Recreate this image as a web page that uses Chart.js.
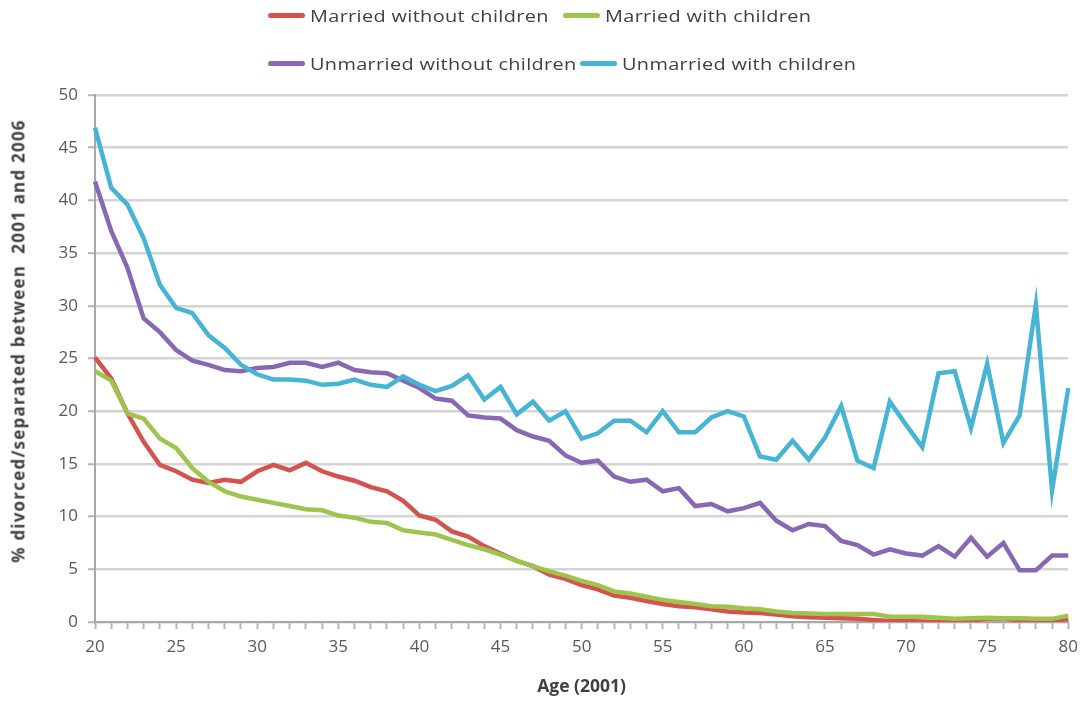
<!DOCTYPE html>
<html lang="en">
<head>
    <meta charset="UTF-8">
    <title>Divorce / separation by age</title>
    <style>
        body {
            margin: 0;
            background: #ffffff;
            font-family: "Open Sans", Arial, sans-serif;
            overflow: hidden;
        }

        .wrap {
            position: relative;
            width: 1086px;
            height: 704px;
        }

        .legend-item {
            position: absolute;
            display: flex;
            align-items: center;
            font-size: 17px;
            color: #404040;
            white-space: nowrap;
            letter-spacing: 0.3px;
            height: 24px;
        }

        .legend-item .swatch {
            width: 37px;
            height: 5px;
            border-radius: 3px;
            margin-right: 5px;
        }

        .legend-item .name {
            display: inline-block;
            transform: scaleX(1.17);
            transform-origin: left center;
        }

        .y-title {
            position: absolute;
            left: 18px;
            top: 341px;
            transform: translate(-50%, -50%) rotate(-90deg);
            font-size: 17px;
            font-weight: bold;
            letter-spacing: 1.2px;
            color: #404040;
            white-space: pre;
        }
    </style>
    <script src="https://cdn.jsdelivr.net/npm/chart.js"></script>
</head>
<body>
    <div class="wrap">
        <div id="legend"></div>
        <div class="y-title" id="yTitle"></div>
        <canvas id="myChart"></canvas>
    </div>

    <script>
        const ages = [];
        for (let a = 20; a <= 80; a++) ages.push(a);

        const yTicks = [0, 5, 10, 15, 20, 25, 30, 35, 40, 45, 50];

        const seriesNames = [
            'Married without children',
            'Married with children',
            'Unmarried without children',
            'Unmarried with children'
        ];

        // ages 20..80
        const marriedNoKids = [
            25.1, 23.1, 19.8, 17.1, 14.9, 14.3, 13.5, 13.2, 13.5, 13.3,
            14.3, 14.9, 14.4, 15.1, 14.3, 13.8, 13.4, 12.8, 12.4, 11.5,
            10.1, 9.7, 8.6, 8.1, 7.2, 6.5, 5.8, 5.3, 4.5, 4.1,
            3.5, 3.1, 2.5, 2.3, 2.0, 1.7, 1.5, 1.4, 1.2, 1.0,
            0.9, 0.85, 0.7, 0.55, 0.45, 0.4, 0.35, 0.3, 0.2, 0.1,
            0.1, 0.05, 0, 0.05, 0.15, 0.3, 0.35, 0.15, 0.1, 0.1,
            0.3
        ];
        const marriedKids = [
            23.8, 22.9, 19.8, 19.3, 17.4, 16.5, 14.6, 13.3, 12.4, 11.9,
            11.6, 11.3, 11.0, 10.7, 10.6, 10.1, 9.9, 9.5, 9.4, 8.7,
            8.5, 8.3, 7.8, 7.3, 6.9, 6.4, 5.8, 5.3, 4.8, 4.4,
            3.9, 3.5, 2.9, 2.7, 2.4, 2.1, 1.9, 1.7, 1.5, 1.45,
            1.3, 1.2, 1.0, 0.85, 0.8, 0.75, 0.75, 0.75, 0.75, 0.5,
            0.5, 0.5, 0.4, 0.3, 0.35, 0.4, 0.35, 0.35, 0.3, 0.3,
            0.6
        ];
        const unmarriedNoKids = [
            41.8, 37.1, 33.6, 28.8, 27.5, 25.8, 24.8, 24.4, 23.9, 23.8,
            24.1, 24.2, 24.6, 24.6, 24.2, 24.6, 23.9, 23.7, 23.6, 22.9,
            22.2, 21.2, 21.0, 19.6, 19.4, 19.3, 18.2, 17.6, 17.2, 15.8,
            15.1, 15.3, 13.8, 13.3, 13.5, 12.4, 12.7, 11.0, 11.2, 10.5,
            10.8, 11.3, 9.6, 8.7, 9.3, 9.1, 7.7, 7.3, 6.4, 6.9,
            6.5, 6.3, 7.2, 6.2, 8.0, 6.2, 7.5, 4.9, 4.9, 6.3,
            6.3
        ];
        const unmarriedKids = [
            46.9, 41.2, 39.6, 36.4, 32.0, 29.8, 29.3, 27.2, 26.0, 24.4,
            23.5, 23.0, 23.0, 22.9, 22.5, 22.6, 23.0, 22.5, 22.3, 23.3,
            22.5, 21.9, 22.4, 23.4, 21.1, 22.3, 19.7, 20.9, 19.1, 20.0,
            17.4, 17.9, 19.1, 19.1, 18.0, 20.0, 18.0, 18.0, 19.4, 20.0,
            19.5, 15.7, 15.4, 17.2, 15.4, 17.5, 20.5, 15.3, 14.6, 20.9,
            18.7, 16.6, 23.6, 23.8, 18.4, 24.5, 17.0, 19.6, 30.1, 12.5,
            22.2
        ];

        const colors = ['#D5534D', '#9DC44D', '#8868B4', '#46B4D4'];
        const values = [marriedNoKids, marriedKids, unmarriedNoKids, unmarriedKids];

        // legend, two rows like the original
        const legendSpots = [[268, 15], [563, 15], [268, 63], [580, 63]];
        const legend = document.getElementById('legend');
        seriesNames.forEach((name, i) => {
            const item = document.createElement('div');
            item.className = 'legend-item';
            item.style.left = legendSpots[i][0] + 'px';
            item.style.top = (legendSpots[i][1] - 12) + 'px';
            item.innerHTML = '<span class="swatch" style="background:' + colors[i] + '"></span>' +
                '<span class="name">' + name + '</span>';
            legend.appendChild(item);
        });

        document.getElementById('yTitle').textContent = '% divorced/separated between  2001 and 2006';

        const ctx = document.getElementById('myChart').getContext('2d');
        const myChart = new Chart(ctx, {
            type: 'line',
            data: {
                labels: ages,
                datasets: seriesNames.map((name, i) => ({
                    label: name,
                    data: values[i],
                    borderColor: colors[i],
                    backgroundColor: colors[i],
                    borderWidth: 4.5,
                    pointRadius: 0,
                    tension: 0,
                    fill: false,
                    order: 4 - i
                }))
            },
            options: {
                responsive: true,
                maintainAspectRatio: false,
                animation: false,
                layout: {
                    padding: { top: 95, right: 2, left: 0, bottom: 0 }
                },
                plugins: {
                    legend: { display: false },
                    tooltip: { enabled: false }
                },
                scales: {
                    x: {
                        afterFit: scale => { scale.height = 82; },
                        grid: {
                            drawOnChartArea: false,
                            drawTicks: true,
                            tickLength: 7,
                            tickWidth: 2,
                            tickColor: '#b4b4b4'
                        },
                        border: { color: '#a8a8a8', width: 2 },
                        ticks: {
                            autoSkip: false,
                            maxRotation: 0,
                            padding: 8,
                            color: '#595959',
                            font: { family: 'Open Sans', size: 17 },
                            callback: function (val, idx) {
                                const age = ages[idx];
                                return age % 5 === 0 ? String(age) : '';
                            }
                        },
                        title: {
                            display: true,
                            text: 'Age (2001)',
                            color: '#404040',
                            font: { family: 'Open Sans', size: 17.5, weight: 'bold' },
                            padding: { top: 0, bottom: 6 }
                        }
                    },
                    y: {
                        min: 0,
                        max: 50,
                        afterFit: scale => { scale.width = 95; },
                        afterBuildTicks: scale => {
                            scale.ticks = yTicks.map(v => ({ value: v }));
                        },
                        grid: {
                            color: '#d4d4d4',
                            lineWidth: 2.5,
                            drawTicks: true,
                            tickLength: 7,
                            tickColor: '#b4b4b4',
                            tickWidth: 2
                        },
                        border: { color: '#a8a8a8', width: 2 },
                        ticks: {
                            padding: 10,
                            color: '#595959',
                            font: { family: 'Open Sans', size: 17 }
                        },
                        title: { display: false }
                    }
                }
            }
        });
    </script>
</body>
</html>
